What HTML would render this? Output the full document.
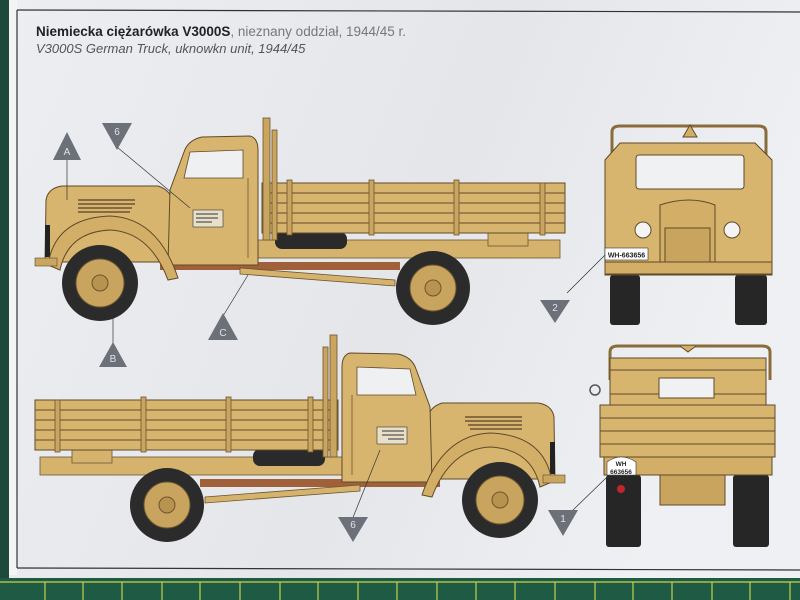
<!DOCTYPE html>
<html><head><meta charset="utf-8"><style>
html,body{margin:0;padding:0;width:800px;height:600px;overflow:hidden;background:#e6e8ec}
svg{display:block}
</style></head><body>
<svg width="800" height="600" viewBox="0 0 800 600" xmlns="http://www.w3.org/2000/svg">
<defs>
<linearGradient id="paper" x1="0" y1="0" x2="1" y2="0.3">
<stop offset="0" stop-color="#eceef2"/><stop offset="0.6" stop-color="#e4e6ea"/><stop offset="1" stop-color="#eef0f3"/>
</linearGradient>
<g id="side">
 <!-- chassis -->
 <rect x="160" y="262" width="240" height="8" fill="#a0603a"/>
 <rect x="255" y="240" width="305" height="18" fill="#d6b36c" stroke="#6b5530" stroke-width="0.8"/>
 <path d="M240,268 L395,280 L395,286 L240,274 Z" fill="#d6b36c" stroke="#6b5530" stroke-width="0.8"/>
 <rect x="275" y="232" width="72" height="17" rx="7" fill="#2a2a2a"/>
 <rect x="488" y="230" width="40" height="16" fill="#d6b36c" stroke="#6b5530" stroke-width="0.8"/>
 <!-- bed -->
 <rect x="262" y="183" width="303" height="50" fill="#d8b56f" stroke="#5e4a2a" stroke-width="1"/>
 <g stroke="#7a6038" stroke-width="1.2">
  <line x1="262" y1="193" x2="565" y2="193"/><line x1="262" y1="203" x2="565" y2="203"/>
  <line x1="262" y1="213" x2="565" y2="213"/><line x1="262" y1="223" x2="565" y2="223"/>
 </g>
 <g fill="#c9a560" stroke="#6b5530" stroke-width="0.8">
  <rect x="287" y="180" width="5" height="55"/><rect x="369" y="180" width="5" height="55"/>
  <rect x="454" y="180" width="5" height="55"/><rect x="540" y="183" width="5" height="52"/>
  <rect x="263" y="118" width="7" height="122"/><rect x="272" y="130" width="5" height="110"/>
 </g>
 <!-- hood -->
 <path d="M45,262 L46,200 Q48,188 62,186 L158,186 Q170,190 172,200 L172,262 Z" fill="#d8b56f" stroke="#5e4a2a" stroke-width="1"/>
 <g stroke="#6b5530" stroke-width="1.5"><line x1="78" y1="200" x2="135" y2="200"/><line x1="78" y1="204" x2="135" y2="204"/><line x1="78" y1="208" x2="132" y2="208"/><line x1="78" y1="212" x2="130" y2="212"/></g>
 <rect x="45" y="225" width="5" height="32" fill="#222"/>
 <!-- cab -->
 <path d="M168,265 L170,190 L184,152 Q188,140 202,137 L250,136 Q258,138 258,150 L258,265 Z" fill="#d8b56f" stroke="#5e4a2a" stroke-width="1"/>
 <path d="M190,152 L243,150 L243,178 L184,178 Z" fill="#eef0f2" stroke="#5e4a2a" stroke-width="0.8"/>
 <line x1="248" y1="178" x2="248" y2="258" stroke="#6b5530" stroke-width="0.8"/>
 <rect x="193" y="210" width="30" height="17" fill="#e8dfc8" stroke="#333" stroke-width="0.6"/>
 <g stroke="#333" stroke-width="1"><line x1="196" y1="214" x2="218" y2="214"/><line x1="196" y1="218" x2="218" y2="218"/><line x1="196" y1="222" x2="212" y2="222"/></g>
 <!-- fender -->
 <path d="M48,265 Q55,218 110,216 Q158,218 178,278 L168,280 Q150,232 110,230 Q68,232 60,270 Z" fill="#d3ae66" stroke="#5e4a2a" stroke-width="1"/>
 <rect x="35" y="258" width="22" height="8" fill="#c9a560" stroke="#5e4a2a" stroke-width="0.6"/>
 <!-- wheels -->
 <circle cx="100" cy="283" r="38" fill="#2b2b2b"/>
 <circle cx="100" cy="283" r="24" fill="#c9a45e" stroke="#6b5530"/>
 <circle cx="100" cy="283" r="8" fill="#b8934f" stroke="#6b5530"/>
 <circle cx="433" cy="288" r="37" fill="#2b2b2b"/>
 <circle cx="433" cy="288" r="23" fill="#c9a45e" stroke="#6b5530"/>
 <circle cx="433" cy="288" r="8" fill="#b8934f" stroke="#6b5530"/>
</g>
</defs>
<rect width="800" height="600" fill="url(#paper)"/>
<rect x="0" y="0" width="9" height="600" fill="#1e4a3c"/>
<rect x="9" y="0" width="8" height="575" fill="#f3f4f6"/>
<line x1="17" y1="10" x2="800" y2="12" stroke="#333" stroke-width="1.2"/>
<line x1="17" y1="10" x2="17" y2="568" stroke="#333" stroke-width="1.2"/>
<line x1="17" y1="568" x2="800" y2="570" stroke="#333" stroke-width="1.2"/>
<rect x="0" y="578" width="800" height="22" fill="#1f5a45"/>
<g stroke="#c6d24a" stroke-width="1.2">
 <line x1="0" y1="582" x2="800" y2="582"/>
 <line x1="45" y1="582" x2="45" y2="600"/><line x1="83" y1="582" x2="83" y2="600"/><line x1="122" y1="582" x2="122" y2="600"/><line x1="162" y1="582" x2="162" y2="600"/><line x1="200" y1="582" x2="200" y2="600"/><line x1="240" y1="582" x2="240" y2="600"/><line x1="280" y1="582" x2="280" y2="600"/><line x1="318" y1="582" x2="318" y2="600"/><line x1="358" y1="582" x2="358" y2="600"/><line x1="397" y1="582" x2="397" y2="600"/><line x1="437" y1="582" x2="437" y2="600"/><line x1="476" y1="582" x2="476" y2="600"/><line x1="515" y1="582" x2="515" y2="600"/><line x1="555" y1="582" x2="555" y2="600"/><line x1="595" y1="582" x2="595" y2="600"/><line x1="633" y1="582" x2="633" y2="600"/><line x1="672" y1="582" x2="672" y2="600"/><line x1="712" y1="582" x2="712" y2="600"/><line x1="750" y1="582" x2="750" y2="600"/><line x1="790" y1="582" x2="790" y2="600"/>
</g>
<text x="36" y="36" font-family="Liberation Sans, sans-serif" font-size="13.5" fill="#222"><tspan font-weight="bold">Niemiecka ciężarówka V3000S</tspan><tspan fill="#777">, nieznany oddział, 1944/45 r.</tspan></text>
<text x="36" y="53" font-family="Liberation Sans, sans-serif" font-size="13" font-style="italic" fill="#555">V3000S German Truck, uknowkn unit, 1944/45</text>

<use href="#side"/>
<use href="#side" transform="translate(600,217) scale(-1,1)"/>

<!-- front view -->
<g stroke="#5e4a2a" stroke-width="1">
 <path d="M612,170 L612,132 Q612,126 620,126 L758,126 Q766,126 766,132 L766,170" fill="none" stroke="#8a6c3a" stroke-width="3"/>
 <rect x="610" y="275" width="30" height="50" rx="3" fill="#262626" stroke="none"/>
 <rect x="735" y="275" width="32" height="50" rx="3" fill="#262626" stroke="none"/>
 <path d="M605,160 L620,143 L755,143 L772,160 L772,275 L605,275 Z" fill="#d8b56f"/>
 <rect x="636" y="155" width="108" height="34" rx="3" fill="#f0f1f2"/>
 <path d="M660,205 Q690,195 715,205 L715,265 L660,265 Z" fill="#d3ae66"/>
 <rect x="665" y="228" width="45" height="35" fill="#c9a45e"/>
 <circle cx="643" cy="230" r="8" fill="#f4f4f4"/><circle cx="732" cy="230" r="8" fill="#f4f4f4"/>
 <rect x="605" y="262" width="167" height="12" fill="#d3ae66"/>
 <path d="M683,137 L690,125 L697,137 Z" fill="#d3ae66"/>
</g>
<rect x="605" y="248" width="43" height="12" fill="#fff" stroke="#333" stroke-width="0.6"/>
<text x="626.5" y="257.5" text-anchor="middle" font-family="Liberation Sans, sans-serif" font-size="7" font-weight="bold" fill="#222">WH-663656</text>

<!-- rear view -->
<g stroke="#5e4a2a" stroke-width="1">
 <path d="M610,380 L610,352 Q610,346 618,346 L762,346 Q770,346 770,352 L770,380" fill="none" stroke="#8a6c3a" stroke-width="3"/>
 <rect x="606" y="475" width="35" height="72" rx="3" fill="#262626" stroke="none"/>
 <rect x="733" y="475" width="36" height="72" rx="3" fill="#262626" stroke="none"/>
 <rect x="610" y="358" width="156" height="48" fill="#d8b56f"/>
 <line x1="610" y1="370" x2="766" y2="370"/><line x1="610" y1="394" x2="766" y2="394"/>
 <rect x="659" y="378" width="55" height="20" fill="#f0f1f2"/>
 <rect x="600" y="405" width="175" height="52" fill="#d8b56f"/>
 <line x1="600" y1="418" x2="775" y2="418"/><line x1="600" y1="431" x2="775" y2="431"/><line x1="600" y1="444" x2="775" y2="444"/>
 <rect x="604" y="457" width="168" height="18" fill="#d3ae66"/>
 <rect x="660" y="475" width="65" height="30" fill="#c9a45e"/>
 <path d="M680,346 L688,352 L696,346" fill="#d3ae66"/>
</g>
<circle cx="595" cy="390" r="5" fill="none" stroke="#555" stroke-width="1.5"/>
<path d="M607,475 L607,462 Q621,452 636,462 L636,475 Z" fill="#fff" stroke="#333" stroke-width="0.6"/>
<text x="621" y="466" text-anchor="middle" font-family="Liberation Sans, sans-serif" font-size="6.5" font-weight="bold" fill="#222">WH</text>
<text x="621" y="474" text-anchor="middle" font-family="Liberation Sans, sans-serif" font-size="6.5" font-weight="bold" fill="#222">663656</text>
<circle cx="621" cy="489" r="4" fill="#c0262a"/>

<!-- leader lines -->
<g stroke="#333" stroke-width="0.7">
 <line x1="67" y1="160" x2="67" y2="200"/>
 <line x1="117" y1="147" x2="190" y2="208"/>
 <line x1="113" y1="318" x2="113" y2="345"/>
 <line x1="223" y1="316" x2="248" y2="275"/>
 <line x1="567" y1="293" x2="605" y2="255"/>
 <line x1="352" y1="520" x2="380" y2="450"/>
 <line x1="573" y1="510" x2="606" y2="478"/>
</g>
<!-- markers -->
<g fill="#6c7079" font-family="Liberation Sans, sans-serif" font-size="10">
 <polygon points="67,132 53,160 81,160"/>
 <polygon points="102,123 132,123 117,150"/>
 <polygon points="113,342 99,367 127,367"/>
 <polygon points="223,313 208,340 238,340"/>
 <polygon points="540,300 570,300 555,323"/>
 <polygon points="338,517 368,517 353,542"/>
 <polygon points="548,510 578,510 563,536"/>
</g>
<g fill="#e0e2e6" font-family="Liberation Sans, sans-serif" font-size="10" text-anchor="middle">
 <text x="67" y="155">A</text><text x="117" y="135">6</text><text x="113" y="362">B</text>
 <text x="223" y="336">C</text><text x="555" y="311">2</text><text x="353" y="528">6</text><text x="563" y="522">1</text>
</g>
</svg>
</body></html>
